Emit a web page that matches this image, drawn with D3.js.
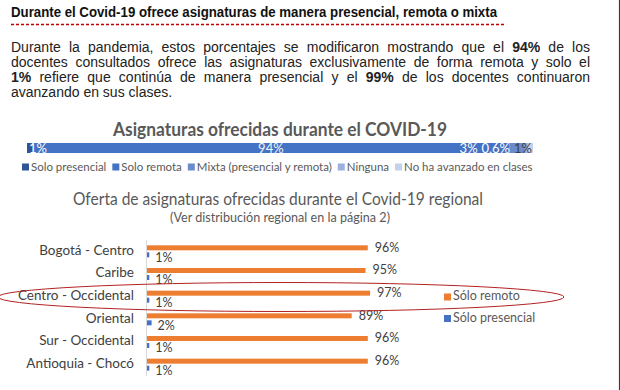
<!DOCTYPE html>
<html>
<head>
<meta charset="utf-8">
<script src="https://cdn.jsdelivr.net/npm/d3@7"></script>
<style>
body{margin:0;background:#fff}
</style>
</head>
<body>
<div id="viz"></div>
<script>
//Data

let topSeries = ["Solo presencial","Solo remota","Mixta (presencial y remota)","Ninguna","No ha avanzado en clases"]
let topValues = [1, 94, 3, 0.6, 1]
let topLabels = ["1%","94%","3%","0,6%","1%"]
let topColors = ["#2F5597","#4472C4","#6A8CCB","#9DB0DD","#C5D0EA"]
let topLabelColors = ["#fff","#f2f2f2","#fff","#fff","#404040"]

let regions = ["Bogotá - Centro","Caribe","Centro - Occidental","Oriental","Sur - Occidental","Antioquia - Chocó"]
let remoto = [96, 95, 97, 89, 96, 96]
let presencial = [1, 1, 1, 2, 1, 1]
let regSeries = ["Sólo remoto","Sólo presencial"]
let regColors = ["#ED7D31","#4472C4"]

let paraLines = [
    [["Durante la pandemia, estos porcentajes se modificaron mostrando que el ",0],["94%",1],[" de los",0]],
    [["docentes consultados ofrece las asignaturas exclusivamente de forma remota y solo el",0]],
    [["1%",1],[" refiere que continúa de manera presencial y el ",0],["99%",1],[" de los docentes continuaron",0]],
    [["avanzando en sus clases.",0]]
]

//Settings
let width = 620
let height = 390
let arial = "'Liberation Sans', Arial, sans-serif"
let calibri = "Lato, 'Noto Sans', sans-serif"
let grey = "#595959"
let dark = "#404040"

let svg = d3.select('#viz').append('svg').attr("width",width).attr("height",height)

//Header
svg.append("text").text("Durante el Covid-19 ofrece asignaturas de manera presencial, remota o mixta")
    .attr("x",11).attr("y",17).attr("font-family",arial).attr("font-weight","bold").attr("font-size",14)
    .attr("fill","#111").attr("textLength",486).attr("lengthAdjust","spacingAndGlyphs")

svg.append("line").attr("x1",11).attr("x2",505).attr("y1",24.5).attr("y2",24.5)
    .attr("stroke","#C00000").attr("stroke-width",1.3).attr("stroke-dasharray","3,2")

//Paragraph, justified with word-spacing
let paraLeft = 11, paraRight = 590
paraLines.forEach((segs,i) => {
    let t = svg.append("text").attr("x",paraLeft).attr("y",52+i*15)
        .attr("font-family",arial).attr("font-size",14).attr("fill","#222")
    segs.forEach(s => {
        t.append("tspan").text(s[0]).attr("font-weight", s[1] ? "bold" : "normal")
    })
    if(i < paraLines.length-1){
        let natural = t.node().getComputedTextLength()
        let spaces = segs.map(s => s[0]).join("").split(" ").length - 1
        t.attr("word-spacing", (paraRight-paraLeft-natural)/spaces)
    }
})

//Top stacked bar
svg.append("text").text("Asignaturas ofrecidas durante el COVID-19").attr("text-anchor","middle")
    .attr("x",280).attr("y",135.5).attr("font-family",calibri).attr("font-weight","bold").attr("font-size",19)
    .attr("fill",grey).attr("textLength",334).attr("lengthAdjust","spacingAndGlyphs")

let total = d3.sum(topValues)
let xTop = d3.scaleLinear().domain([0,total]).range([27,533])
let starts = topValues.map((v,i) => d3.sum(topValues.slice(0,i)))

svg.selectAll(".seg").data(topValues).join("rect").attr("class","seg")
    .attr("x",(d,i) => xTop(starts[i])).attr("y",143)
    .attr("width",d => xTop(d)-xTop(0)).attr("height",10)
    .attr("fill",(d,i) => topColors[i])

let segLabels = svg.selectAll(".segLabel").data(topLabels).join("text").attr("class","segLabel")
    .text(d => d).attr("text-anchor","start").attr("dominant-baseline","middle")
    .attr("y",149.5).attr("font-family",calibri).attr("font-size",13)
    .attr("fill",(d,i) => topLabelColors[i])

//place labels at segment centers, then push apart from the right end
let lw = segLabels.nodes().map(n => n.getComputedTextLength())
let lx = topValues.map((v,i) => xTop(starts[i]+v/2) - lw[i]/2)
let n = lx.length
lx[n-1] = Math.min(lx[n-1], xTop(total)-lw[n-1]-1)
for(let i=n-2;i>=0;i--){ lx[i] = Math.min(lx[i], lx[i+1]-lw[i]-4) }
lx[0] = Math.max(lx[0], xTop(0)+2)
segLabels.attr("x",(d,i) => lx[i])

//Top legend, font sized so the row spans 22..532
function drawLegend(fs){
    let g = svg.append("g")
    let legX = 22
    topSeries.forEach((s,i) => {
        g.append("rect").attr("x",legX).attr("y",163.5).attr("width",7).attr("height",7).attr("fill",topColors[i])
        let t = g.append("text").text(s).attr("x",legX+9).attr("y",170.5)
            .attr("font-family",calibri).attr("font-size",fs).attr("fill",grey)
        legX += 9 + t.node().getComputedTextLength() + 6
    })
    return [g, legX-6]
}
let trial = drawLegend(10)
trial[0].remove()
drawLegend(10*(532-22-5*15)/(trial[1]-22-5*15))

//Regional chart
svg.append("text").text("Oferta de asignaturas ofrecidas durante el Covid-19 regional").attr("text-anchor","middle")
    .attr("x",278).attr("y",205).attr("font-family",calibri).attr("font-size",17)
    .attr("fill",grey).attr("textLength",410).attr("lengthAdjust","spacingAndGlyphs")

svg.append("text").text("(Ver distribución regional en la página 2)").attr("text-anchor","middle")
    .attr("x",280).attr("y",221.5).attr("font-family",calibri).attr("font-size",13)
    .attr("fill",grey).attr("textLength",220).attr("lengthAdjust","spacingAndGlyphs")

let xReg = d3.scaleLinear().domain([0,100]).range([147,377])
let yReg = d3.scaleBand().domain(regions).range([240,376])
let mid = d => yReg(d) + yReg.bandwidth()/2

svg.append("line").attr("x1",xReg(0)-0.5).attr("x2",xReg(0)-0.5).attr("y1",240).attr("y2",376)
    .attr("stroke","#d9d9d9")

svg.selectAll(".cat").data(regions).join("text").attr("class","cat")
    .text(d => d).attr("text-anchor","end").attr("dominant-baseline","middle")
    .attr("x",134).attr("y",d => mid(d)).attr("font-family",calibri).attr("font-size",13.5).attr("fill",dark)

svg.selectAll(".barR").data(remoto).join("rect").attr("class","barR")
    .attr("x",xReg(0)).attr("y",(d,i) => mid(regions[i])-6)
    .attr("width",d => xReg(d)-xReg(0)).attr("height",5).attr("fill",regColors[0])

svg.selectAll(".barP").data(presencial).join("rect").attr("class","barP")
    .attr("x",xReg(0)).attr("y",(d,i) => mid(regions[i])+1)
    .attr("width",d => xReg(d)-xReg(0)).attr("height",5).attr("fill",regColors[1])

svg.selectAll(".labR").data(remoto).join("text").attr("class","labR")
    .text(d => d+"%").attr("dominant-baseline","middle")
    .attr("x",d => xReg(d)+7).attr("y",(d,i) => mid(regions[i])-3)
    .attr("font-family",calibri).attr("font-size",12.5).attr("fill",dark)

svg.selectAll(".labP").data(presencial).join("text").attr("class","labP")
    .text(d => d+"%").attr("dominant-baseline","middle")
    .attr("x",d => xReg(d)+6).attr("y",(d,i) => mid(regions[i])+7)
    .attr("font-family",calibri).attr("font-size",12.5).attr("fill",dark)

//Regional legend
regSeries.forEach((s,i) => {
    svg.append("rect").attr("x",444).attr("y",293.5+i*21.5).attr("width",7).attr("height",7).attr("fill",regColors[i])
    svg.append("text").text(s).attr("x",453).attr("y",297+i*21.5).attr("dominant-baseline","middle")
        .attr("font-family",calibri).attr("font-size",12.5).attr("fill",grey)
})

//Hand drawn highlight round Centro - Occidental
svg.append("ellipse").attr("cx",281).attr("cy",297).attr("rx",283).attr("ry",14.5)
    .attr("fill","none").attr("stroke","#B22222").attr("stroke-width",1)

//Page edge
svg.append("line").attr("x1",619.5).attr("x2",619.5).attr("y1",0).attr("y2",height)
    .attr("stroke","#3a3a3a").attr("stroke-width",1.2)
</script>
</body>
</html>
